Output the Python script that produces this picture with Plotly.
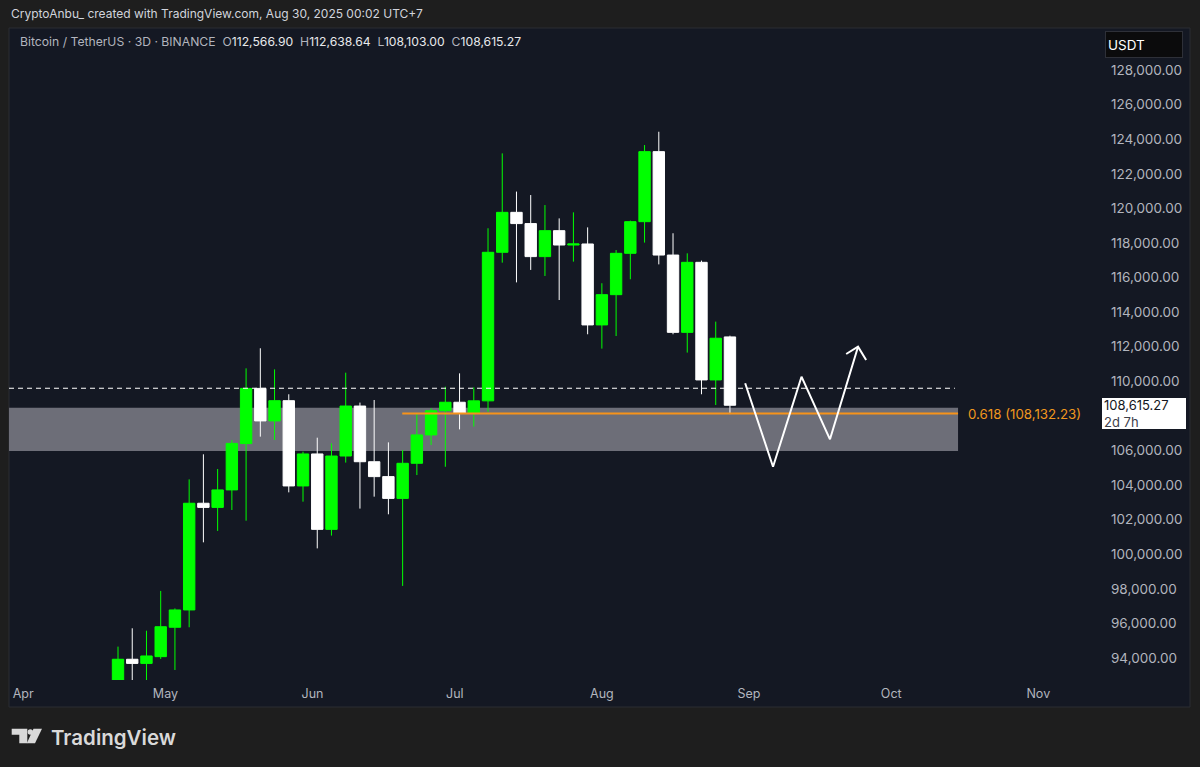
import plotly.graph_objects as go

# ---------------- data ----------------
candle_dates = [
    "2025-04-21", "2025-04-24", "2025-04-27", "2025-04-30", "2025-05-03", "2025-05-06",
    "2025-05-09", "2025-05-12", "2025-05-15", "2025-05-18", "2025-05-21", "2025-05-24",
    "2025-05-27", "2025-05-30", "2025-06-02", "2025-06-05", "2025-06-08", "2025-06-11",
    "2025-06-14", "2025-06-17", "2025-06-20", "2025-06-23", "2025-06-26", "2025-06-29",
    "2025-07-02", "2025-07-05", "2025-07-08", "2025-07-11", "2025-07-14", "2025-07-17",
    "2025-07-20", "2025-07-23", "2025-07-26", "2025-07-29", "2025-08-01", "2025-08-04",
    "2025-08-07", "2025-08-10", "2025-08-13", "2025-08-16", "2025-08-19", "2025-08-22",
    "2025-08-25", "2025-08-28",
]
opens = [85170, 93930, 93690, 94080, 95780, 96780, 102950, 102710, 103720, 106400,
         109590, 107710, 108880, 103950, 105800, 101440, 105680, 108570, 105350, 104490,
         103230, 105260, 106900, 108300, 108790, 108150, 108870, 117460, 119770, 119120,
         117210, 118710, 117880, 117940, 113260, 115010, 117400, 119230, 123280, 117300,
         112830, 116880, 110080, 112566.90]
highs = [94660, 95720, 95580, 97880, 96870, 104330, 105780, 104930, 106610, 110750,
         111910, 110690, 109250, 105930, 106740, 106410, 110500, 108770, 108920, 106470,
         106030, 108150, 108440, 109690, 110460, 109650, 118850, 123180, 120970, 120770,
         120190, 119420, 119770, 118900, 115670, 117590, 119290, 123660, 124430, 118560,
         117400, 116980, 113450, 112638.64]
lows = [85100, 92000, 92200, 93950, 93310, 95780, 100690, 101350, 102560, 101940,
        106800, 106610, 103580, 103040, 100340, 101080, 105300, 102640, 103330, 102310,
        98170, 104580, 106320, 105060, 107220, 107380, 108240, 116860, 115720, 116440,
        116090, 114700, 116920, 112720, 111890, 112620, 115900, 118020, 116760, 112720,
        111660, 109250, 108630, 108103.00]
closes = [93930, 93690, 94120, 95810, 96780, 102950, 102710, 103720, 106410, 109590,
          107710, 108880, 103950, 105800, 101440, 105680, 108570, 105350, 104490, 103230,
          105260, 106900, 108300, 108790, 108150, 108870, 117460, 119770, 119120, 117210,
          118710, 117880, 117940, 113260, 115010, 117400, 119230, 123280, 117300, 112830,
          116880, 110080, 112490, 108615.27]

# 108,000 is hidden under the last-price label in the reference
price_ticks = [94000, 96000, 98000, 100000, 102000, 104000, 106000, 110000,
               112000, 114000, 116000, 118000, 120000, 122000, 124000, 126000, 128000]
month_ticks = ["2025-04-01", "2025-05-01", "2025-06-01", "2025-07-01", "2025-08-01",
               "2025-09-01", "2025-10-01", "2025-11-01"]
month_labels = ["Apr", "May", "Jun", "Jul", "Aug", "Sep", "Oct", "Nov"]

zone_low, zone_high = 105970, 108470
fib_level = 108132.23
fib_label = "0.618 (108,132.23)"
dashed_level = 109600
last_price = 108615.27
countdown = "2d 7h"

zone_start = "2025-03-01"
zone_end = "2025-10-15 02:00"
fib_start = "2025-06-19 22:00"
dashed_end = "2025-10-14 10:00"

path_dates = ["2025-08-31 05:00", "2025-09-06 02:00", "2025-09-12 02:00",
              "2025-09-18 02:00", "2025-09-24 00:00"]
path_prices = [109885, 105063, 110267, 106647, 112001]
arrow_dates = ["2025-09-21 12:00", "2025-09-24 00:00", "2025-09-25 17:00"]
arrow_prices = [111580, 112001, 111230]

x_range = ["2025-03-29 00:30", "2025-11-13 09:00"]
y_range = [92730, 130428]

# ---------------- layout helpers (pixel -> paper) ----------------
W, H = 1200, 767
L, R, T, B = 9, 1097, 28, 680
def px(x):
    return (x - L) / (R - L)
def py(y):
    return (B - y) / (B - T)

PANE = "#141823"
OUTER = "#1e1e1e"
AXIS_TXT = "#b2b5be"
GREEN = "#00ff00"
FONT = "Inter, Roboto, sans-serif"

fig = go.Figure()

fig.add_trace(go.Candlestick(
    x=candle_dates, open=opens, high=highs, low=lows, close=closes,
    increasing=dict(line=dict(color=GREEN, width=1), fillcolor=GREEN),
    decreasing=dict(line=dict(color="#ffffff", width=1), fillcolor="#ffffff"),
    whiskerwidth=0, showlegend=False, hoverinfo="skip",
))

# dashed horizontal level
fig.add_trace(go.Scatter(
    x=[x_range[0], dashed_end], y=[dashed_level, dashed_level], mode="lines",
    line=dict(color="#ffffff", width=1.2, dash="5px,4px"), showlegend=False, hoverinfo="skip",
))
# fib line
fig.add_trace(go.Scatter(
    x=[fib_start, zone_end], y=[fib_level, fib_level], mode="lines",
    line=dict(color="#f7931a", width=2), showlegend=False, hoverinfo="skip",
))
# projected path
fig.add_trace(go.Scatter(
    x=path_dates, y=path_prices, mode="lines",
    line=dict(color="#ffffff", width=2), showlegend=False, hoverinfo="skip",
))
fig.add_trace(go.Scatter(
    x=arrow_dates, y=arrow_prices, mode="lines",
    line=dict(color="#ffffff", width=2), showlegend=False, hoverinfo="skip",
))

shapes = [
    # pane background
    dict(type="rect", xref="paper", yref="paper", x0=px(9), x1=px(1190), y0=py(707), y1=py(28),
         fillcolor=PANE, line=dict(color="#2b2d33", width=1), layer="below"),
    # support zone
    dict(type="rect", xref="x", yref="y", x0=zone_start, x1=zone_end, y0=zone_low, y1=zone_high,
         fillcolor="#6d6e78", line=dict(width=0), layer="below"),
    # logo
    dict(type="path", xref="paper", yref="paper",
         path=(f"M {px(11.7)},{py(728.7)} L {px(27.3)},{py(728.7)} L {px(27.3)},{py(743.3)} "
               f"L {px(19.3)},{py(743.3)} L {px(19.3)},{py(734.7)} L {px(11.7)},{py(734.7)} Z"),
         fillcolor="#d9d9d9", line=dict(width=0)),
    dict(type="circle", xref="paper", yref="paper", x0=px(27.6), x1=px(33.0), y0=py(734.7), y1=py(729.3),
         fillcolor="#d9d9d9", line=dict(width=0)),
    dict(type="path", xref="paper", yref="paper",
         path=(f"M {px(33.5)},{py(728.7)} L {px(42.0)},{py(728.7)} L {px(35.0)},{py(743.3)} "
               f"L {px(26.8)},{py(743.3)} Z"),
         fillcolor="#d9d9d9", line=dict(width=0)),
]

annotations = [
    dict(xref="paper", yref="paper", x=px(9), y=py(14), xanchor="left", yanchor="middle",
         text="CryptoAnbu_ created with TradingView.com, Aug 30, 2025 00:02 UTC+7",
         showarrow=False, font=dict(family=FONT, size=12, color="#d1d4dc")),
    dict(xref="paper", yref="paper", x=px(18), y=py(42), xanchor="left", yanchor="middle",
         text=("<span style='color:#b2b5be'>Bitcoin / TetherUS · 3D · BINANCE\u00a0\u00a0O</span>112,566.90"
               "\u00a0\u00a0<span style='color:#b2b5be'>H</span>112,638.64"
               "\u00a0\u00a0<span style='color:#b2b5be'>L</span>108,103.00"
               "\u00a0\u00a0<span style='color:#b2b5be'>C</span>108,615.27"),
         showarrow=False, font=dict(family=FONT, size=12.2, color="#e8e9ec")),
    dict(xref="paper", yref="paper", x=px(1105), y=py(31), xanchor="left", yanchor="top",
         text="USDT", showarrow=False, align="left", width=72, height=21, borderpad=2,
         bgcolor="#0b0b0c", bordercolor="#2e3038", borderwidth=1,
         font=dict(family=FONT, size=13.5, color="#ffffff")),
    dict(xref="paper", yref="y", x=px(1102), y=last_price, xanchor="left", yanchor="top", yshift=7.5,
         text=f"{last_price:,.2f}<br><span style='color:#3d404a'>{countdown}</span>",
         showarrow=False, align="left", width=80, height=27, borderpad=2,
         bgcolor="#ffffff", borderwidth=0,
         font=dict(family=FONT, size=13, color="#131722")),
    dict(xref="x", yref="y", x=zone_end, y=fib_level, xanchor="left", yanchor="middle", xshift=8,
         text=fib_label, showarrow=False, font=dict(family=FONT, size=13.3, color="#f0971e")),
    dict(xref="paper", yref="paper", x=px(49), y=py(737), xanchor="left", yanchor="middle",
         text="TradingView", showarrow=False,
         font=dict(family=FONT, size=20.5, color="#d9d9d9", weight=600)),
]

fig.update_layout(
    width=W, height=H, autosize=False,
    margin=dict(l=L, r=W - R, t=T, b=H - B),
    paper_bgcolor=OUTER, plot_bgcolor=PANE,
    showlegend=False,
    shapes=shapes, annotations=annotations,
    boxgap=0.2, boxgroupgap=0,
    xaxis=dict(type="date", range=x_range, tickvals=month_ticks, ticktext=month_labels,
               showgrid=False, zeroline=False, showline=False,
               ticks="outside", ticklen=2, tickcolor=PANE,
               tickfont=dict(family=FONT, size=12.5, color=AXIS_TXT),
               rangeslider=dict(visible=False), fixedrange=True),
    yaxis=dict(range=y_range, side="right", tickvals=price_ticks, tickformat=",.2f",
               showgrid=False, zeroline=False, showline=False, ticks="",
               ticklabelstandoff=13,
               tickfont=dict(family=FONT, size=13.5, color=AXIS_TXT), fixedrange=True),
)

fig.write_html("out.html", config={"displayModeBar": False},
               post_script="document.body.style.margin='0';document.body.style.overflow='hidden';")
